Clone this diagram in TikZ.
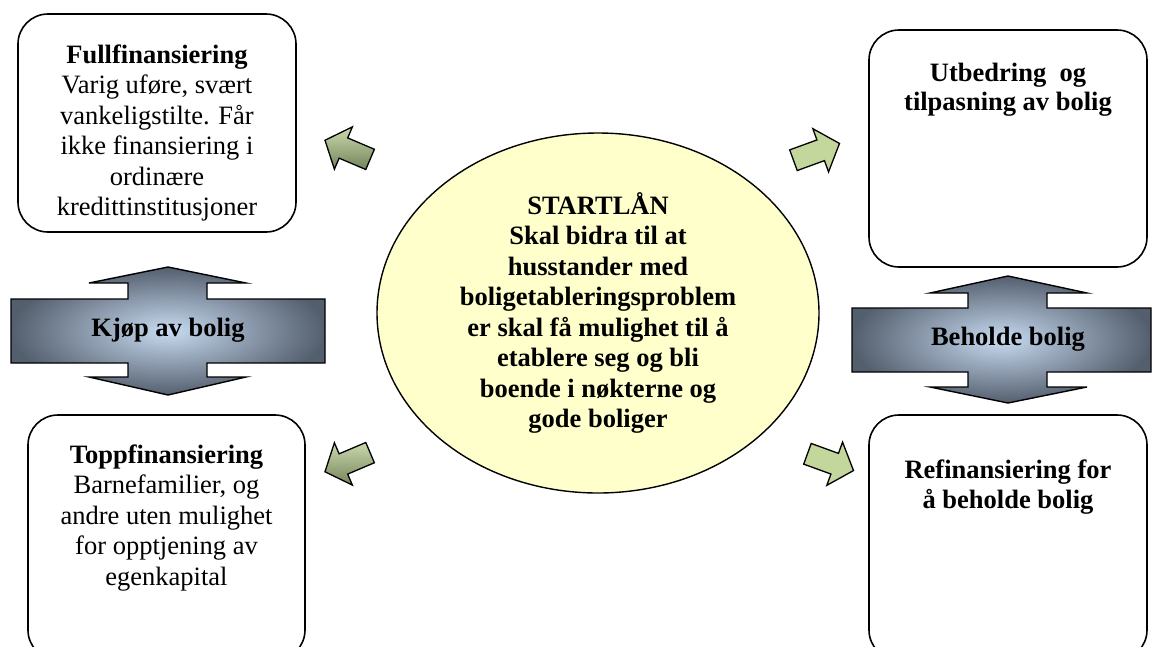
\documentclass[tikz,border=0pt]{standalone}
\usepackage{fontspec}
\setmainfont{Liberation Serif}
\usetikzlibrary{shapes}
\usetikzlibrary{positioning}

\definecolor{gulfyll}{HTML}{FFFFCC}
\definecolor{pilmork}{HTML}{545F6E}
\definecolor{pillys}{HTML}{C8DBF1}
\definecolor{gronnlys}{HTML}{C3D69B}
\definecolor{gronntopp}{HTML}{CBDAAD}
\definecolor{gronnbunn}{HTML}{74845A}

\tikzset{
  boks/.style={draw, line width=1.6pt, rounded corners=30pt, inner sep=0pt},
  tekst/.style={align=center, inner sep=0pt, font=\fontsize{26.5}{30.5}\selectfont},
  dobbelpil/.style={draw, line width=1.4pt, inner color=pillys, outer color=pilmork},
  liten pil/.pic={
    \draw[line width=1.3pt, #1] (-24,-11) -- (5,-11) -- (5,-23) -- (25,0) -- (5,23) -- (5,11) -- (-24,11) -- cycle;
  }
}

\begin{document}
\begin{tikzpicture}[x=1pt,y=-1pt]
    \useasboundingbox (0,0) rectangle (1152,646);

    % Startlaan
    \node[draw, ellipse, line width=1.4pt, fill=gulfyll, minimum width=442pt, minimum height=360pt,
          tekst, font=\fontsize{26.5}{30.5}\selectfont\bfseries] (startlan) at (598,313)
        {STARTLÅN\\Skal bidra til at\\husstander med\\boligetableringsproblem\\er skal få mulighet til å\\etablere seg og bli\\boende i nøkterne og\\gode boliger};

    % Bokser
    \node[boks, minimum width=278pt, minimum height=218pt] (fullboks) at (157,123) {};
    \node[boks, minimum width=277pt, minimum height=245pt] (toppboks) at (166.5,537.5) {};
    \node[boks, minimum width=278pt, minimum height=237pt] (utbedboks) at (1008,148.5) {};
    \node[boks, minimum width=278pt, minimum height=245pt] (refiboks) at (1008,537.5) {};

    % Tekst i boksene
    \node[tekst, anchor=north, below=31pt of fullboks.north] (fulltekst)
        {\textbf{Fullfinansiering}\\Varig uføre, svært\\vankeligstilte. Får\\ikke finansiering i\\ordinære\\kredittinstitusjoner};
    \node[tekst, anchor=north, below=30pt of toppboks.north] (topptekst)
        {\textbf{Toppfinansiering}\\Barnefamilier, og\\andre uten mulighet\\for opptjening av\\egenkapital};
    \node[tekst, anchor=north, below=34pt of utbedboks.north, font=\fontsize{26.5}{28.5}\selectfont\bfseries] (utbedtekst)
        {Utbedring\ \ og\\tilpasning av bolig};
    \node[tekst, anchor=north, below=45pt of refiboks.north, font=\fontsize{26.5}{30.5}\selectfont\bfseries] (refitekst)
        {Refinansiering for\\å beholde bolig};

    % Kjoep av bolig
    \draw[dobbelpil] (11,299) -- (128,299) -- (128,283) -- (89,283) -- (168,267) -- (246,283) -- (207,283)
        -- (207,299) -- (325,299) -- (325,363) -- (207,363) -- (207,377) -- (246,377) -- (168,395)
        -- (89,377) -- (128,377) -- (128,363) -- (11,363) -- cycle;
    \node[tekst, font=\fontsize{26.5}{30.5}\selectfont\bfseries] (kjop) at (168,330) {Kjøp av bolig};

    % Beholde bolig
    \draw[dobbelpil] (852,308) -- (968,308) -- (968,293) -- (930,293) -- (1008,276) -- (1087,293) -- (1047,293)
        -- (1047,308) -- (1151,308) -- (1151,372) -- (1047,372) -- (1047,387) -- (1087,387) -- (1008,403)
        -- (930,387) -- (968,387) -- (968,372) -- (852,372) -- cycle;
    \node[tekst, font=\fontsize{26.5}{30.5}\selectfont\bfseries] (behold) at (1008,339) {Beholde bolig};

    % Smaa piler
    \pic[rotate=157] at (348,150) {liten pil={top color=gronntopp, bottom color=gronnbunn}};
    \pic[rotate=203] at (348,462) {liten pil={top color=gronntopp, bottom color=gronnbunn}};
    \pic[rotate=20] at (816,152) {liten pil={fill=gronnlys}};
    \pic[rotate=-20] at (830,462) {liten pil={fill=gronnlys}};
\end{tikzpicture}
\end{document}
